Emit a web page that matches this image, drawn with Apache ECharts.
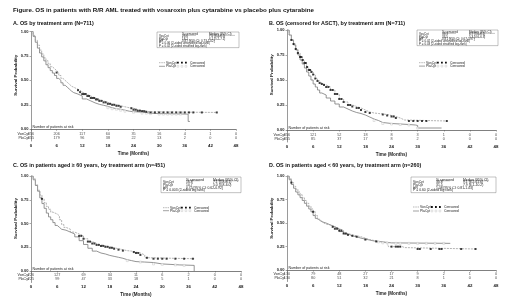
<!DOCTYPE html>
<html lang="en">
<head>
<meta charset="UTF-8">
<title>OS vosaroxin</title>
<style>html,body{margin:0;padding:0;background:#fff}</style>
</head>
<body>
<div id="main" style="width:520px;height:307px;"></div>
<script src="https://cdn.jsdelivr.net/npm/echarts@6/dist/echarts.min.js"></script>
<script>
// at-risk time points and counts
var riskMonths = [0, 6, 12, 18, 24, 30, 36, 42, 48];
var riskA_vos = [356, 206, 117, 60, 35, 16, 4, 1, 0];
var riskA_pla = [355, 179, 96, 38, 22, 13, 2, 0, 0];
var riskB_vos = [356, 121, 52, 18, 8, 3, 1, 0, 0];
var riskB_pla = [355, 85, 37, 17, 8, 2, 0, 0, 0];
var riskC_vos = [226, 127, 69, 34, 11, 6, 2, 0, 0];
var riskC_pla = [225, 99, 47, 33, 18, 5, 1, 0, 0];
var riskD_vos = [130, 79, 48, 27, 17, 9, 2, 1, 0];
var riskD_pla = [130, 80, 51, 32, 21, 8, 1, 0, 0];

// KM curves (months, survival)
var tA_vos = [0,0.5,1,1.5,2,2.5,3,3.5,4,4.5,5,5.5,6,6.5,7,7.5,8,8.5,9,9.5,10,10.7,11.5,12,13,14,15,16,17,18,19,20,21,22,23,24,25,26,27,28,43.5];
var sA_vos = [1,0.96,0.91,0.86,0.81,0.77,0.73,0.70,0.67,0.64,0.62,0.60,0.58,0.55,0.52,0.50,0.48,0.46,0.44,0.43,0.415,0.40,0.38,0.36,0.34,0.32,0.305,0.29,0.275,0.26,0.25,0.24,0.23,0.22,0.215,0.20,0.19,0.185,0.178,0.172,0.172];
var tA_pla = [0,0.5,1,1.5,2,2.5,3,3.5,4,4.5,5,5.5,6,6.5,7,7.5,8,8.5,9,9.5,10,11,12,13,14,15,16,17,18,19,20,21,22,23,24,26,28,30,36.8,37.2];
var sA_pla = [1,0.95,0.89,0.83,0.78,0.74,0.70,0.66,0.63,0.60,0.575,0.55,0.52,0.50,0.475,0.45,0.43,0.41,0.39,0.375,0.36,0.34,0.31,0.29,0.27,0.255,0.245,0.235,0.22,0.21,0.205,0.195,0.185,0.18,0.175,0.165,0.16,0.155,0.08,0.08];

var tB_vos = [0,0.5,1,1.5,2,2.5,3,3.5,4,4.5,5,5.5,6,6.5,7,7.5,8,8.5,9,10,11,12,13,14,15,16,17,18,19,20,21,22,23,24,25,26,27,36.7];
var sB_vos = [1,0.95,0.90,0.86,0.81,0.77,0.73,0.70,0.67,0.63,0.60,0.58,0.555,0.515,0.49,0.47,0.46,0.45,0.43,0.40,0.36,0.31,0.28,0.25,0.235,0.22,0.20,0.18,0.17,0.165,0.16,0.155,0.145,0.135,0.12,0.10,0.09,0.09];
var tB_pla = [0,0.5,1,1.5,2,2.5,3,3.5,4,4.5,5,5.5,6,6.5,7,7.5,8,9,10,11,12,13,14,15,16,17,18,19,20,21,22,24,26,28,29.5,30,35.5];
var sB_pla = [1,0.95,0.90,0.85,0.80,0.75,0.70,0.66,0.62,0.58,0.54,0.50,0.46,0.43,0.40,0.37,0.35,0.32,0.29,0.26,0.23,0.21,0.19,0.175,0.165,0.15,0.13,0.11,0.095,0.075,0.065,0.06,0.055,0.05,0.045,0.02,0.02];

var tC_vos = [0,0.5,1,1.5,2,2.5,3,3.5,4,4.5,5,5.5,6,6.5,7,7.5,8,9,10,11,12,13,14,15,16,17,18,19,20,21,22,23,24,25,26,27,37.3];
var sC_vos = [1,0.97,0.91,0.85,0.80,0.76,0.72,0.68,0.65,0.62,0.61,0.60,0.58,0.54,0.49,0.46,0.44,0.41,0.39,0.37,0.34,0.31,0.29,0.275,0.265,0.255,0.245,0.235,0.225,0.215,0.21,0.20,0.19,0.17,0.14,0.13,0.13];
var tC_pla = [0,0.5,1,1.5,2,2.5,3,3.5,4,4.5,5,5.5,6,6.5,7,8,9,10,11,12,13,14,15,16,17,18,19,20,21,22,23,24,26,28,30,32,34,37.3];
var sC_pla = [1,0.96,0.90,0.84,0.77,0.71,0.66,0.61,0.57,0.54,0.51,0.48,0.46,0.44,0.43,0.41,0.39,0.36,0.32,0.28,0.24,0.21,0.19,0.18,0.165,0.155,0.145,0.135,0.12,0.11,0.10,0.095,0.09,0.075,0.07,0.065,0.06,0];

var tD_vos = [0,0.5,1,1.5,2,2.5,3,3.5,4,4.5,5,5.5,6,6.5,7,7.5,8,8.5,9,10,11,12,13,14,15,16,17,18,19,20,21,22,23,23.3,26.5,27,43.3];
var sD_vos = [1,0.97,0.93,0.89,0.86,0.83,0.80,0.77,0.74,0.71,0.68,0.65,0.62,0.58,0.54,0.52,0.50,0.49,0.48,0.46,0.44,0.42,0.39,0.375,0.365,0.355,0.34,0.325,0.315,0.305,0.30,0.29,0.28,0.25,0.24,0.225,0.225];
var tD_pla = [0,0.5,1,1.5,2,2.5,3,3.5,4,4.5,5,5.5,6,6.5,7,7.5,8,9,10,11,12,13,14,15,16,17,18,19,20,22,24,37.5];
var sD_pla = [1,0.96,0.91,0.87,0.83,0.80,0.77,0.74,0.71,0.68,0.65,0.62,0.58,0.55,0.53,0.515,0.50,0.48,0.46,0.44,0.41,0.385,0.365,0.355,0.34,0.33,0.32,0.31,0.30,0.29,0.285,0.285];

// censoring times
var cA_vos = [6,11,11.5,12,12.4,12.8,13.2,13.6,14,14.4,14.8,15.2,15.6,16,16.5,17,17.5,18,18.5,19,19.5,20,20.5,21,23.5,24,24.5,25,25.5,26,26.5,27,28,29,30,31,32,33,34,35,36,37,38,40,43.5];
var cA_pla = [18,19,20,21,22,24,26,27,28,30,31,32,33,34,35];
var cB_vos = [1,1.5,2,2.5,3,3.3,3.6,4,4.3,4.6,5,5.3,5.6,6,6.5,7,7.5,8,8.5,9,9.5,10,10.5,11,11.5,12,12.5,13,14,14.5,15,16,16.5,17,18,19,22,23,24,24.5,25,28,29,30,31,32,36.7];
var cB_pla = [20,22,24,26,28,30];
var cC_vos = [2.5,11,11.5,12,13,13.5,14,14.5,15,15.5,16,16.5,17,17.5,18,18.5,19,20,21,23.5,24,24.5,25,26.5,28,29,30,31,33,35,37];
var cC_pla = [22,25,28,30,33,35];
var cD_vos = [1,6,10.5,11,11.5,12,12.5,13,13.5,14,15,16,18,20.5,24,25,25.5,26,30,30.5,33,35,35.5,40,43.3];
var cD_pla = [21,22,23,25,26,28,30,32,34,36];

var FONT = 'Liberation Sans, Arial, sans-serif';
var myChart = echarts.init(document.getElementById('main'), null, {renderer: 'canvas'});

function pairs(t, s) { return t.map(function (v, i) { return [v, s[i]]; }); }
function survAt(t, s, x) {
    var v = s[0];
    for (var i = 0; i < t.length; i++) { if (t[i] <= x) v = s[i]; }
    return v;
}

var grids = [
    {left: 31, top: 31.5, width: 205, height: 109.5},
    {left: 287, top: 30, width: 209, height: 112},
    {left: 31, top: 176, width: 210, height: 106.5},
    {left: 287, top: 176, width: 209, height: 105.5}
];
var panels = [
    {tv: tA_vos, sv: sA_vos, tp: tA_pla, sp: sA_pla, cv: cA_vos, cp: cA_pla, rv: riskA_vos, rp: riskA_pla},
    {tv: tB_vos, sv: sB_vos, tp: tB_pla, sp: sB_pla, cv: cB_vos, cp: cB_pla, rv: riskB_vos, rp: riskB_pla},
    {tv: tC_vos, sv: sC_vos, tp: tC_pla, sp: sC_pla, cv: cC_vos, cp: cC_pla, rv: riskC_vos, rp: riskC_pla},
    {tv: tD_vos, sv: sD_vos, tp: tD_pla, sp: sD_pla, cv: cD_vos, cp: cD_pla, rv: riskD_vos, rp: riskD_pla}
];

var xAxes = [], yAxes = [], series = [];
grids.forEach(function (g, k) {
    xAxes.push({
        gridIndex: k, type: 'value', min: 0, max: 48, interval: 6,
        name: 'Time (Months)', nameLocation: 'middle', nameGap: 10,
        nameTextStyle: {fontSize: 4.6, fontWeight: 'bold', fontFamily: FONT, color: '#222'},
        axisLine: {lineStyle: {color: '#555', width: 0.6}},
        axisTick: {length: 1.5, lineStyle: {color: '#555', width: 0.5}},
        axisLabel: {fontSize: 4.4, fontWeight: 'bold', fontFamily: FONT, color: '#222', margin: 2.5},
        splitLine: {show: false}
    });
    yAxes.push({
        gridIndex: k, type: 'value', min: -0.12, max: 1,
        axisLine: {show: true, lineStyle: {color: '#555', width: 0.6}},
        axisTick: {show: true, length: 1.5, customValues: [0, 0.25, 0.5, 0.75, 1], lineStyle: {color: '#555', width: 0.5}},
        axisLabel: {customValues: [0, 0.25, 0.5, 0.75, 1], fontSize: 4, fontWeight: 'bold', fontFamily: FONT, color: '#222', margin: 2.5,
            formatter: function (v) { return v.toFixed(2); }},
        splitLine: {show: false}
    });
    var p = panels[k];
    series.push({
        type: 'line', xAxisIndex: k, yAxisIndex: k, step: 'end', symbol: 'none',
        data: pairs(p.tp, p.sp), lineStyle: {color: '#7a7a7a', width: 0.8},
        markLine: {silent: true, symbol: 'none', label: {show: false},
            lineStyle: {color: '#666', width: 0.5, type: 'solid'}, data: [{yAxis: 0}]},
        z: 2
    });
    series.push({
        type: 'line', xAxisIndex: k, yAxisIndex: k, step: 'end', symbol: 'none',
        data: pairs(p.tv, p.sv), lineStyle: {color: '#a0a0a0', width: 0.8, type: [2, 1]},
        z: 3
    });
    series.push({
        type: 'scatter', xAxisIndex: k, yAxisIndex: k, symbol: 'rect', symbolSize: 2,
        data: p.cp.map(function (c) { return [c, survAt(p.tp, p.sp, c)]; }),
        itemStyle: {color: '#fff', borderColor: '#bbb', borderWidth: 0.5}, z: 4
    });
    series.push({
        type: 'scatter', xAxisIndex: k, yAxisIndex: k, symbol: 'rect', symbolSize: 2,
        data: p.cv.map(function (c) { return [c, survAt(p.tv, p.sv, c)]; }),
        itemStyle: {color: '#111'}, z: 5
    });
    [[p.rv, -0.045], [p.rp, -0.085]].forEach(function (r) {
        series.push({
            type: 'scatter', xAxisIndex: k, yAxisIndex: k, symbolSize: 0,
            data: riskMonths.map(function (m, i) { return [m, r[1], r[0][i]]; }),
            label: {show: true, position: 'inside', fontSize: 3.8, fontFamily: FONT, color: '#222',
                formatter: function (d) { return d.value[2]; }},
            z: 6
        });
    });
});

// legend tables (text only)
var tables = [
    {x: 157, y: 32, w: 82, rowH: 2.3, legY: 30.7, legGap: 3.6,
        rows: [['VosCyt', '23.6', '7.5 (6.4-8.5)'], ['PlaCyt', '18.2', '6.1 (5.2-7.1)'], ['HR', '', '0.87 [95% CI: 0.73-1.02]']],
        notes: ['P = 0.06 (2-sided unstratified log-rank)', 'P = 0.02 (2-sided stratified log-rank)']},
    {x: 417, y: 30, w: 81, rowH: 2.3, legY: 32.7, legGap: 3.4,
        rows: [['VosCyt', '39.3', '6.7 (5.6-8.1)'], ['PlaCyt', '33.5', '5.3 (4.6-6.3)'], ['HR', '', '0.81 [95% CI: 0.67-0.97]']],
        notes: ['P = 0.02 (2-sided unstratified log-rank)', 'P = 0.03 (2-sided stratified log-rank)']},
    {x: 161, y: 177, w: 80, rowH: 2.7, legY: 30.7, legGap: 3,
        rows: [['VosCyt', '16.8', '7.1 (5.8-8.1)'], ['PlaCyt', '10.7', '5.0 (3.8-6.0)'], ['HR', '', '0.75 [95% CI: 0.62-0.92]']],
        notes: ['P = 0.003 (2-sided log rank)']},
    {x: 411, y: 177, w: 85, rowH: 2.7, legY: 30, legGap: 4,
        rows: [['VosCyt', '30.8', '9.1 (6.2-11.6)'], ['PlaCyt', '31.5', '7.9 (6.1-10.2)'], ['HR', '', '1.08 [95% CI: 0.81-1.43]']],
        notes: ['P = 0.60 (2-sided log rank)']}
];

var graphic = [];
function txt(x, y, s, size, opts) {
    opts = opts || {};
    graphic.push({
        type: 'text', x: x, y: y, rotation: opts.rot || 0, silent: true,
        style: {text: s, fontSize: size, fontFamily: FONT, fontWeight: opts.bold ? 'bold' : 'normal',
            fill: opts.color || '#222', textAlign: opts.align || 'left', textVerticalAlign: opts.va || 'middle'}
    });
}
function line(x1, y1, x2, y2, color, w, dash) {
    graphic.push({type: 'line', silent: true, shape: {x1: x1, y1: y1, x2: x2, y2: y2},
        style: {stroke: color || '#555', lineWidth: w || 0.4, lineDash: dash || null}});
}

txt(13, 10, 'Figure. OS in patients with R/R AML treated with vosaroxin plus cytarabine vs placebo plus cytarabine', 6.2, {bold: true, color: '#111'});
var titles = [
    [13, 24, 'A. OS by treatment arm (N=711)'],
    [269, 24, 'B. OS (censored for ASCT), by treatment arm (N=711)'],
    [13, 166, 'C. OS in patients aged \u2265 60 years, by treatment arm (n=451)'],
    [269, 166, 'D. OS in patients aged < 60 years, by treatment arm (n=260)']
];
titles.forEach(function (t) { txt(t[0], t[1], t[2], 5.4, {bold: true, color: '#111'}); });

grids.forEach(function (g, k) {
    var zeroY = g.top + g.height * (1 / 1.12);
    txt(g.left - 15, g.top + g.height * 0.4, 'Survival Probability', 4.4, {bold: true, rot: Math.PI / 2, align: 'center'});
    txt(g.left + 1.5, zeroY - 2, 'Number of patients at risk', 3.6);
    var rowV = zeroY + g.height / 1.12 * 0.045;
    var rowP = zeroY + g.height / 1.12 * 0.085;
    txt(g.left - 2, rowV, 'VosCyt', 3.6, {align: 'right'});
    txt(g.left - 2, rowP, 'PlaCyt', 3.6, {align: 'right'});

    var t = tables[k];
    var fs = t.rowH + 0.7;
    var c1 = t.x + 2, c2 = t.x + 25, c3 = t.x + 52;
    var y = t.y + t.rowH;
    txt(c2, y, '% censored', fs);
    txt(c3, y, 'Median (95% CI)', fs);
    line(c2, y + 1.1, c2 + 14, y + 1.1, '#444', 0.3);
    line(c3, y + 1.1, c3 + 26, y + 1.1, '#444', 0.3);
    t.rows.forEach(function (r) {
        y += t.rowH;
        txt(c1, y, r[0], fs);
        if (r[1]) txt(c2, y, r[1], fs);
        txt(r[0] === 'HR' ? c2 : c3, y, r[2], fs);
    });
    t.notes.forEach(function (n) { y += t.rowH; txt(c1, y, n, fs); });
    graphic.push({type: 'rect', silent: true, shape: {x: t.x, y: t.y, width: t.w, height: y - t.y + t.rowH * 0.8},
        style: {fill: 'none', stroke: '#666', lineWidth: 0.4}});

    // legend lines
    var ly1 = t.y + t.legY, ly2 = ly1 + t.legGap;
    line(t.x + 2, ly1, t.x + 8, ly1, '#999', 0.7, [1.5, 0.8]);
    line(t.x + 2, ly2, t.x + 8, ly2, '#7a7a7a', 0.7);
    txt(t.x + 9, ly1, 'VosCyt', 3.4);
    txt(t.x + 9, ly2, 'PlaCyt', 3.4);
    for (var i = 0; i < 3; i++) {
        graphic.push({type: 'rect', silent: true, shape: {x: t.x + 20 + i * 4, y: ly1 - 0.9, width: 1.8, height: 1.8}, style: {fill: '#111'}});
        graphic.push({type: 'rect', silent: true, shape: {x: t.x + 20 + i * 4, y: ly2 - 0.9, width: 1.8, height: 1.8}, style: {fill: '#fff', stroke: '#bbb', lineWidth: 0.4}});
    }
    txt(t.x + 33, ly1, 'Censored', 3.4);
    txt(t.x + 33, ly2, 'Censored', 3.4);
});

var option = {
    animation: false,
    backgroundColor: '#fff',
    grid: grids,
    xAxis: xAxes,
    yAxis: yAxes,
    series: series,
    graphic: graphic
};
myChart.setOption(option);
</script>
</body>
</html>
